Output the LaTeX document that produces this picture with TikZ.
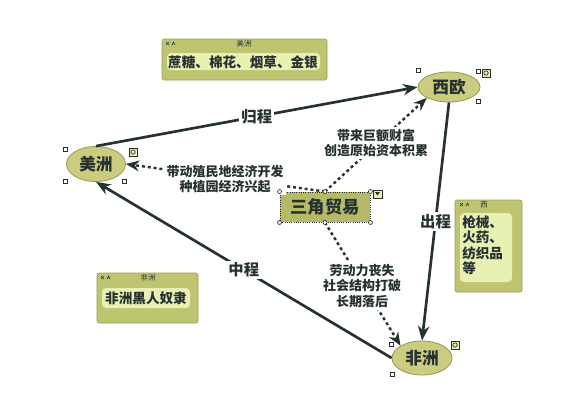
\documentclass[tikz,border=0pt]{standalone}
\usepackage{fontspec}
\setmainfont{Noto Sans CJK SC}
\usetikzlibrary{shapes.geometric,arrows.meta}
\definecolor{lnc}{RGB}{38,50,50}
\definecolor{ellf}{RGB}{204,204,128}
\definecolor{elld}{RGB}{150,150,80}
\definecolor{trf}{RGB}{182,186,104}
\definecolor{noteo}{RGB}{190,196,112}
\definecolor{notei}{RGB}{232,240,178}
\begin{document}
\begin{tikzpicture}[x=0.75pt,y=-0.75pt,
  ell/.style={ellipse,fill=ellf,draw=elld,line width=0.6pt,inner sep=0pt,
    font=\fontsize{12.5}{14}\selectfont\bfseries,text=lnc},
  tradebox/.style={rectangle,fill=trf,draw=lnc,densely dotted,line width=0.7pt,inner sep=0pt,
    minimum width=67.5pt,minimum height=22.5pt,font=\fontsize{13}{15}\selectfont\bfseries,text=lnc},
  solidarr/.style={draw=lnc,line width=2pt,-{Stealth[length=11pt,width=8.5pt]}},
  dotarr/.style={draw=lnc,line width=1.8pt,dash pattern=on 2.2pt off 2.2pt,-{Stealth[length=10pt,width=8pt]}},
  lbl/.style={fill=white,inner sep=1.5pt,font=\fontsize{11.5}{13}\selectfont\bfseries,text=lnc},
  dlbl/.style={align=center,fill=white,inner sep=1.5pt,font=\fontsize{9.75}{11.7}\selectfont\bfseries,text=lnc},
  outerbox/.style={fill=noteo,draw=noteo!80!black,line width=0.4pt,rounded corners=1.5pt},
  innerbox/.style={fill=notei,draw=none,rounded corners=3pt},
  notetxt/.style={font=\fontsize{10.2}{11.7}\selectfont\bfseries,text=lnc,inner sep=0pt},
  notettl/.style={font=\fontsize{5.5}{6}\selectfont,text=lnc,inner sep=0pt},
  hs/.style={fill=white,draw=lnc,line width=0.5pt}]
\useasboundingbox[fill=white] (0,0) rectangle (572,412);

% note boxes
\path[outerbox] (162,39) rectangle (327,80);
\path[innerbox] (167,53) rectangle (320,70);
\node[notettl] (t1) at (244,44) {美洲};
\node[notetxt] (n1) at (243,62) {蔗糖、棉花、烟草、金银};

\path[outerbox] (455,200) rectangle (522,292);
\path[innerbox] (460,213) rectangle (512,282);
\node[notettl] (t2) at (484,205) {西};
\node[notetxt,align=left,anchor=north west] (n2) at (462,215) {枪械、\\火药、\\纺织品\\等};

\path[outerbox] (97,273) rectangle (198,323);
\path[innerbox] (102,288) rectangle (190,308);
\node[notettl] (t3) at (148,278) {非洲};
\node[notetxt] (n3) at (146,298) {非洲黑人奴隶};

% little note icons
\foreach \x/\y in {166/42,460/203,101/276}{
  \draw[lnc,line width=0.5pt] (\x,\y) -- ++(3,3) (\x,\y+3) -- ++(3,-3);
  \draw[lnc,line width=0.5pt] (\x+6,\y+3) -- ++(1.5,-3) -- ++(1.5,3);
}

% main nodes
\node[ell,minimum width=44.25pt,minimum height=26.25pt] (mz) at (96,164) {美洲};
\node[ell,minimum width=46.5pt,minimum height=22.5pt] (xo) at (449,87) {西欧};
\node[ell,minimum width=45pt,minimum height=25.5pt] (fz) at (422,358) {非洲};
\node[tradebox] (tr) at (325,207) {三角贸易};

% solid connectors
\draw[solidarr] (mz.north) -- node[lbl] (l1) {归程} (xo.west);
\draw[solidarr] (xo.south) -- node[lbl] (l2) {出程} (fz.north);
\draw[solidarr] (fz.west) -- node[lbl] (l3) {中程} (mz.south);

% dotted connectors
\draw[dotarr] (tr.north) -- (xo.south west);
\draw[dotarr] (tr.north) -- (mz.east);
\draw[dotarr] (tr.south) -- (fz.north west);

\node[dlbl] (d1) at (376,143) {带来巨额财富\\创造原始资本积累};
\node[dlbl] (d2) at (225,179) {带动殖民地经济开发\\种植园经济兴起};
\node[dlbl] (d3) at (362,286) {劳动力丧失\\社会结构打破\\长期落后};

% selection handles
\foreach \p in {(418,70),(478,71),(478,101),(65,149),(65,181),(124,181),(391,344),(392,374)}
  \draw[hs] \p ++(-2,-2) rectangle ++(4,4);
\foreach \p in {(tr.north west),(tr.north east),(tr.south west),(tr.south east),(tr.north),(tr.south)}
  \draw[hs] \p circle (2);
% small icons
\foreach \x/\y in {486/73,133/152,455/345}{
  \draw[fill=notei,draw=lnc,line width=0.4pt] (\x-4,\y-4) rectangle (\x+4,\y+4);
  \draw[lnc,line width=0.5pt] (\x,\y) circle (2.2);
}
\draw[fill=notei,draw=lnc,line width=0.4pt] (373,190) rectangle (382,198);
\fill[lnc] (375,192) -- (380,192) -- (377.5,195.5) -- cycle;
\end{tikzpicture}
\end{document}
